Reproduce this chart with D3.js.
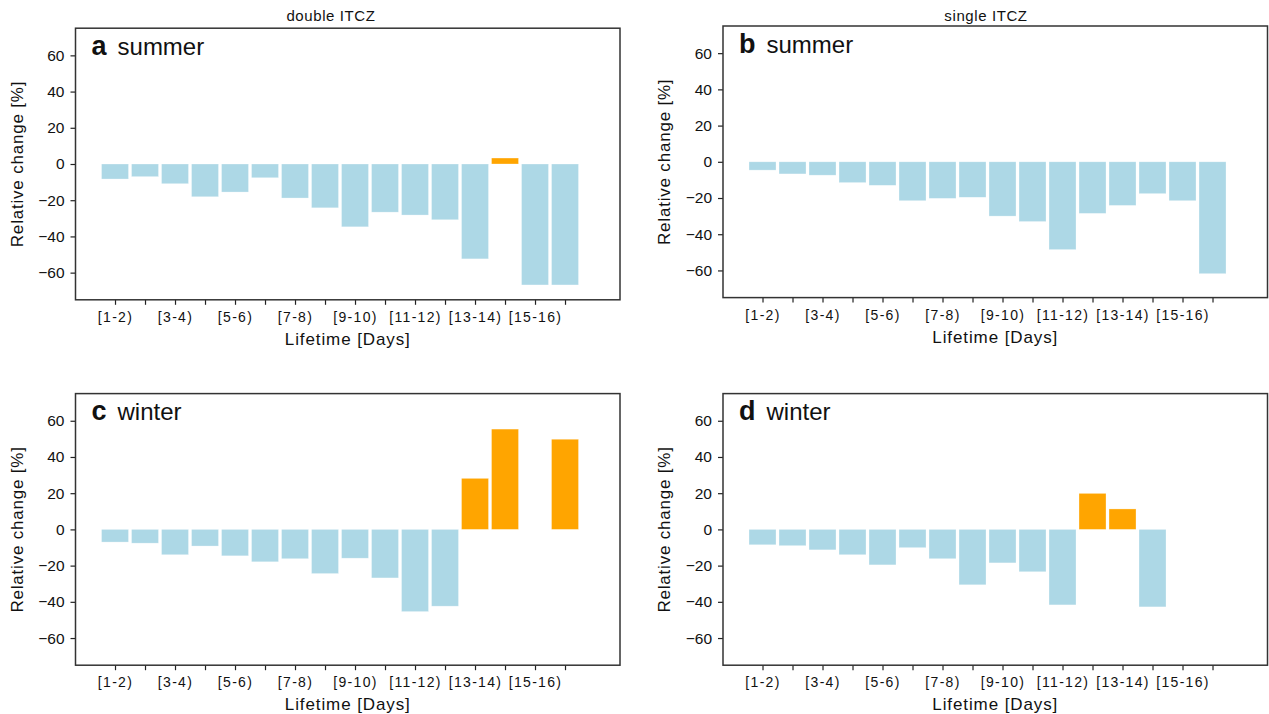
<!DOCTYPE html>
<html>
<head>
<meta charset="utf-8">
<script src="https://cdn.jsdelivr.net/npm/d3@7/dist/d3.min.js"></script>
<style>
  html, body { margin: 0; padding: 0; background: #fff; }
  svg { display: block; }
  text { font-family: "Liberation Sans", Arial, Helvetica, sans-serif; fill: #111; }
</style>
</head>
<body>
<svg id="chart" width="1269" height="714"></svg>
<script>
// ---- data ----
const bins = ["[1-2)","[2-3)","[3-4)","[4-5)","[5-6)","[6-7)","[7-8)","[8-9)",
              "[9-10)","[10-11)","[11-12)","[12-13)","[13-14)","[14-15)","[15-16)","[16-17)"];
const tickLabels = ["[1-2)","","[3-4)","","[5-6)","","[7-8)","",
                    "[9-10)","","[11-12)","","[13-14)","","[15-16)",""];
const yTicks = [-60, -40, -20, 0, 20, 40, 60];
const yDomain = [-75, 75];

const summerDouble = [-8.3, -7.0, -10.9, -18.1, -15.5, -7.6, -18.8, -24.2, -34.7, -26.6, -28.2, -30.8, -52.4, 3.3, -66.8, -66.8];
const summerSingle = [-4.6, -6.7, -7.4, -11.5, -13.0, -21.5, -20.2, -19.6, -30.0, -33.0, -48.5, -28.5, -24.1, -17.6, -21.5, -61.8];
const winterDouble = [-7.0, -7.6, -14.0, -9.2, -14.6, -17.9, -16.2, -24.4, -15.9, -26.8, -45.4, -42.4, 28.2, 55.4, null, 49.8];
const winterSingle = [-8.5, -9.0, -11.3, -14.0, -19.6, -10.1, -16.2, -30.6, -18.5, -23.4, -41.7, 19.9, 11.3, -42.8, null, null];

const columnTitles = ["double ITCZ", "single ITCZ"];
const panelLetters = ["a", "b", "c", "d"];
const panelSeasons = ["summer", "summer", "winter", "winter"];
const xLabel = "Lifetime [Days]";
const yLabel = "Relative change [%]";

const negColor = "#ADD8E6";
const posColor = "#FFA500";

// ---- layout ----
const panels = [
  { data: summerDouble, left: 75.5, right: 620,   top: 28.2,  bottom: 299.8, title: columnTitles[0], titleX: 331 },
  { data: summerSingle, left: 723,  right: 1267.5, top: 26.0,  bottom: 297.6, title: columnTitles[1], titleX: 986 },
  { data: winterDouble, left: 75.5, right: 620,   top: 393.6, bottom: 665.2 },
  { data: winterSingle, left: 723,  right: 1267.5, top: 393.6, bottom: 665.2 }
];

const svg = d3.select("#chart");
svg.append("rect").attr("width", 1269).attr("height", 714).attr("fill", "#fff");

panels.forEach((p, pi) => {
  const w = p.right - p.left, h = p.bottom - p.top;
  const g = svg.append("g").attr("transform", `translate(${p.left},${p.top})`);

  const x = d3.scaleLinear().domain([-1.317, 16.833]).range([0, w]);
  const y = d3.scaleLinear().domain(yDomain).range([h, 0]);
  const bw = x(0.9) - x(0);

  const rows = p.data.map((v, i) => ({ i, v })).filter(d => d.v !== null);

  g.selectAll("rect.bar").data(rows).enter().append("rect")
    .attr("class", "bar")
    .attr("x", d => x(d.i) - bw / 2)
    .attr("width", bw)
    .attr("y", d => y(Math.max(0, d.v)))
    .attr("height", d => Math.abs(y(d.v) - y(0)))
    .attr("fill", d => d.v >= 0 ? posColor : negColor)
    .attr("stroke", "#ffffff").attr("stroke-width", 0.6).attr("stroke-opacity", 0.5);

  // axes
  const xAxis = d3.axisBottom(x)
    .tickValues(d3.range(bins.length))
    .tickFormat(i => tickLabels[i])
    .tickSize(5).tickPadding(7).tickSizeOuter(0);
  const gx = g.append("g").attr("transform", `translate(0,${h})`).call(xAxis);
  gx.select(".domain").remove();
  gx.selectAll("line").attr("stroke", "#222").attr("stroke-width", 1.2);
  gx.selectAll("text").attr("font-size", 14).attr("letter-spacing", 1.3).attr("fill", "#111")
    .style("font-family", '"Liberation Sans", Arial, sans-serif');

  const yAxis = d3.axisLeft(y)
    .tickValues(yTicks)
    .tickFormat(v => v < 0 ? "\u2212" + Math.abs(v) : String(v))
    .tickSize(5).tickPadding(6).tickSizeOuter(0);
  const gy = g.append("g").call(yAxis);
  gy.select(".domain").remove();
  gy.selectAll("line").attr("stroke", "#222").attr("stroke-width", 1.2);
  gy.selectAll("text").attr("font-size", 15.5).attr("fill", "#111")
    .style("font-family", '"Liberation Sans", Arial, sans-serif');

  // frame
  g.append("rect").attr("x", 0).attr("y", 0).attr("width", w).attr("height", h)
    .attr("fill", "none").attr("stroke", "#333").attr("stroke-width", 1.5);

  // axis labels
  g.append("text")
    .attr("x", w / 2).attr("y", h + 45)
    .attr("text-anchor", "middle").attr("font-size", 17).attr("letter-spacing", 0.9)
    .text(xLabel);
  g.append("text")
    .attr("transform", `translate(${-53},${h / 2}) rotate(-90)`)
    .attr("text-anchor", "middle").attr("font-size", 17).attr("letter-spacing", 0.8)
    .text(yLabel);

  // panel label
  const lab = g.append("text").attr("x", 16).attr("y", 26.5);
  lab.append("tspan").attr("font-weight", "bold").attr("font-size", 27).text(panelLetters[pi]);
  lab.append("tspan").attr("font-size", 24).attr("dx", 11).text(panelSeasons[pi]);

  if (p.title) {
    svg.append("text").attr("x", p.titleX).attr("y", 21)
      .attr("text-anchor", "middle").attr("font-size", 15).attr("letter-spacing", 0.6)
      .text(p.title);
  }
});
</script>
</body>
</html>
